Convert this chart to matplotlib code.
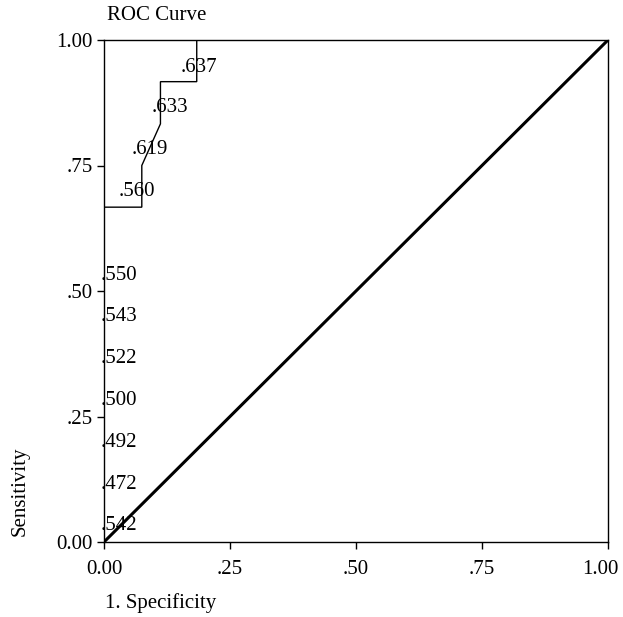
import numpy as np
import matplotlib
matplotlib.use("Agg")
import matplotlib.pyplot as plt
import matplotlib.transforms as mtransforms

plt.rcParams['font.family'] = ['Liberation Serif', 'DejaVu Serif']

#ROC curve points (1 - specificity, sensitivity) and cutoff labels
fpr = [0.0, 0.0, 0.0, 0.0, 0.0, 0.0, 0.0, 0.0, 0.075, 0.075, 0.112, 0.112, 0.184, 0.184, 1.0]
tpr = [0.0, 0.083, 0.167, 0.25, 0.333, 0.417, 0.5, 0.667, 0.667, 0.75, 0.833, 0.917, 0.917, 1.0, 1.0]

label_idx = [0, 1, 2, 3, 4, 5, 6, 8, 9, 10, 12]
cutoffs = [".542", ".472", ".492", ".500", ".522", ".543", ".550", ".560", ".619", ".633", ".637"]
#pixel shift of each label (left edge, vertical centre) from its point
label_dx = [-3, -3, -3, -3, -3, -3, -3, -23, -10, -9, -16]
label_dy = [16, 16, 16, 16, 16, 16, 16, 16, 16, 16, 14]

ticks = [0.0, 0.25, 0.5, 0.75, 1.0]
tick_labels = ["0.00", ".25", ".50", ".75", "1.00"]

fig = plt.figure(figsize=(6.23, 6.17), dpi=100)
ax = fig.add_axes([104/623, 75/617, 504/623, 502/617])

ax.plot(fpr, tpr, color='black', lw=1.0, solid_joinstyle='miter')
ax.plot([0, 1], [0, 1], color='black', lw=2.2)

for i, txt, dx, dy in zip(label_idx, cutoffs, label_dx, label_dy):
    ax.annotate(txt, (fpr[i], tpr[i]), xytext=(dx, dy), textcoords='offset pixels',
                ha='left', va='center', fontsize=15)

ax.set_xlim(0, 1)
ax.set_ylim(0, 1)
ax.set_xticks(ticks)
ax.set_xticklabels(tick_labels)
ax.set_yticks(ticks)
ax.set_yticklabels(tick_labels)
ax.tick_params(direction='out', length=5, width=1, labelsize=15)
ax.tick_params(axis='x', pad=8)
ax.tick_params(axis='y', pad=3)
for s in ax.spines.values():
    s.set_linewidth(1.0)

#last x tick label sits a little left of its tick so it stays inside the figure
last = ax.get_xticklabels()[-1]
last.set_transform(last.get_transform() + mtransforms.ScaledTranslation(-8/100, 0, fig.dpi_scale_trans))

fig.text(107/623, 1 - 15/617, "ROC Curve", fontsize=15, ha='left', va='center')
fig.text(105/623, 1 - 603/617, "1. Specificity", fontsize=15, ha='left', va='center')
fig.text(20/623, 1 - 491/617, "Sensitivity", fontsize=15, rotation=90, ha='center', va='center')

fig.savefig("out.png", dpi=100)
